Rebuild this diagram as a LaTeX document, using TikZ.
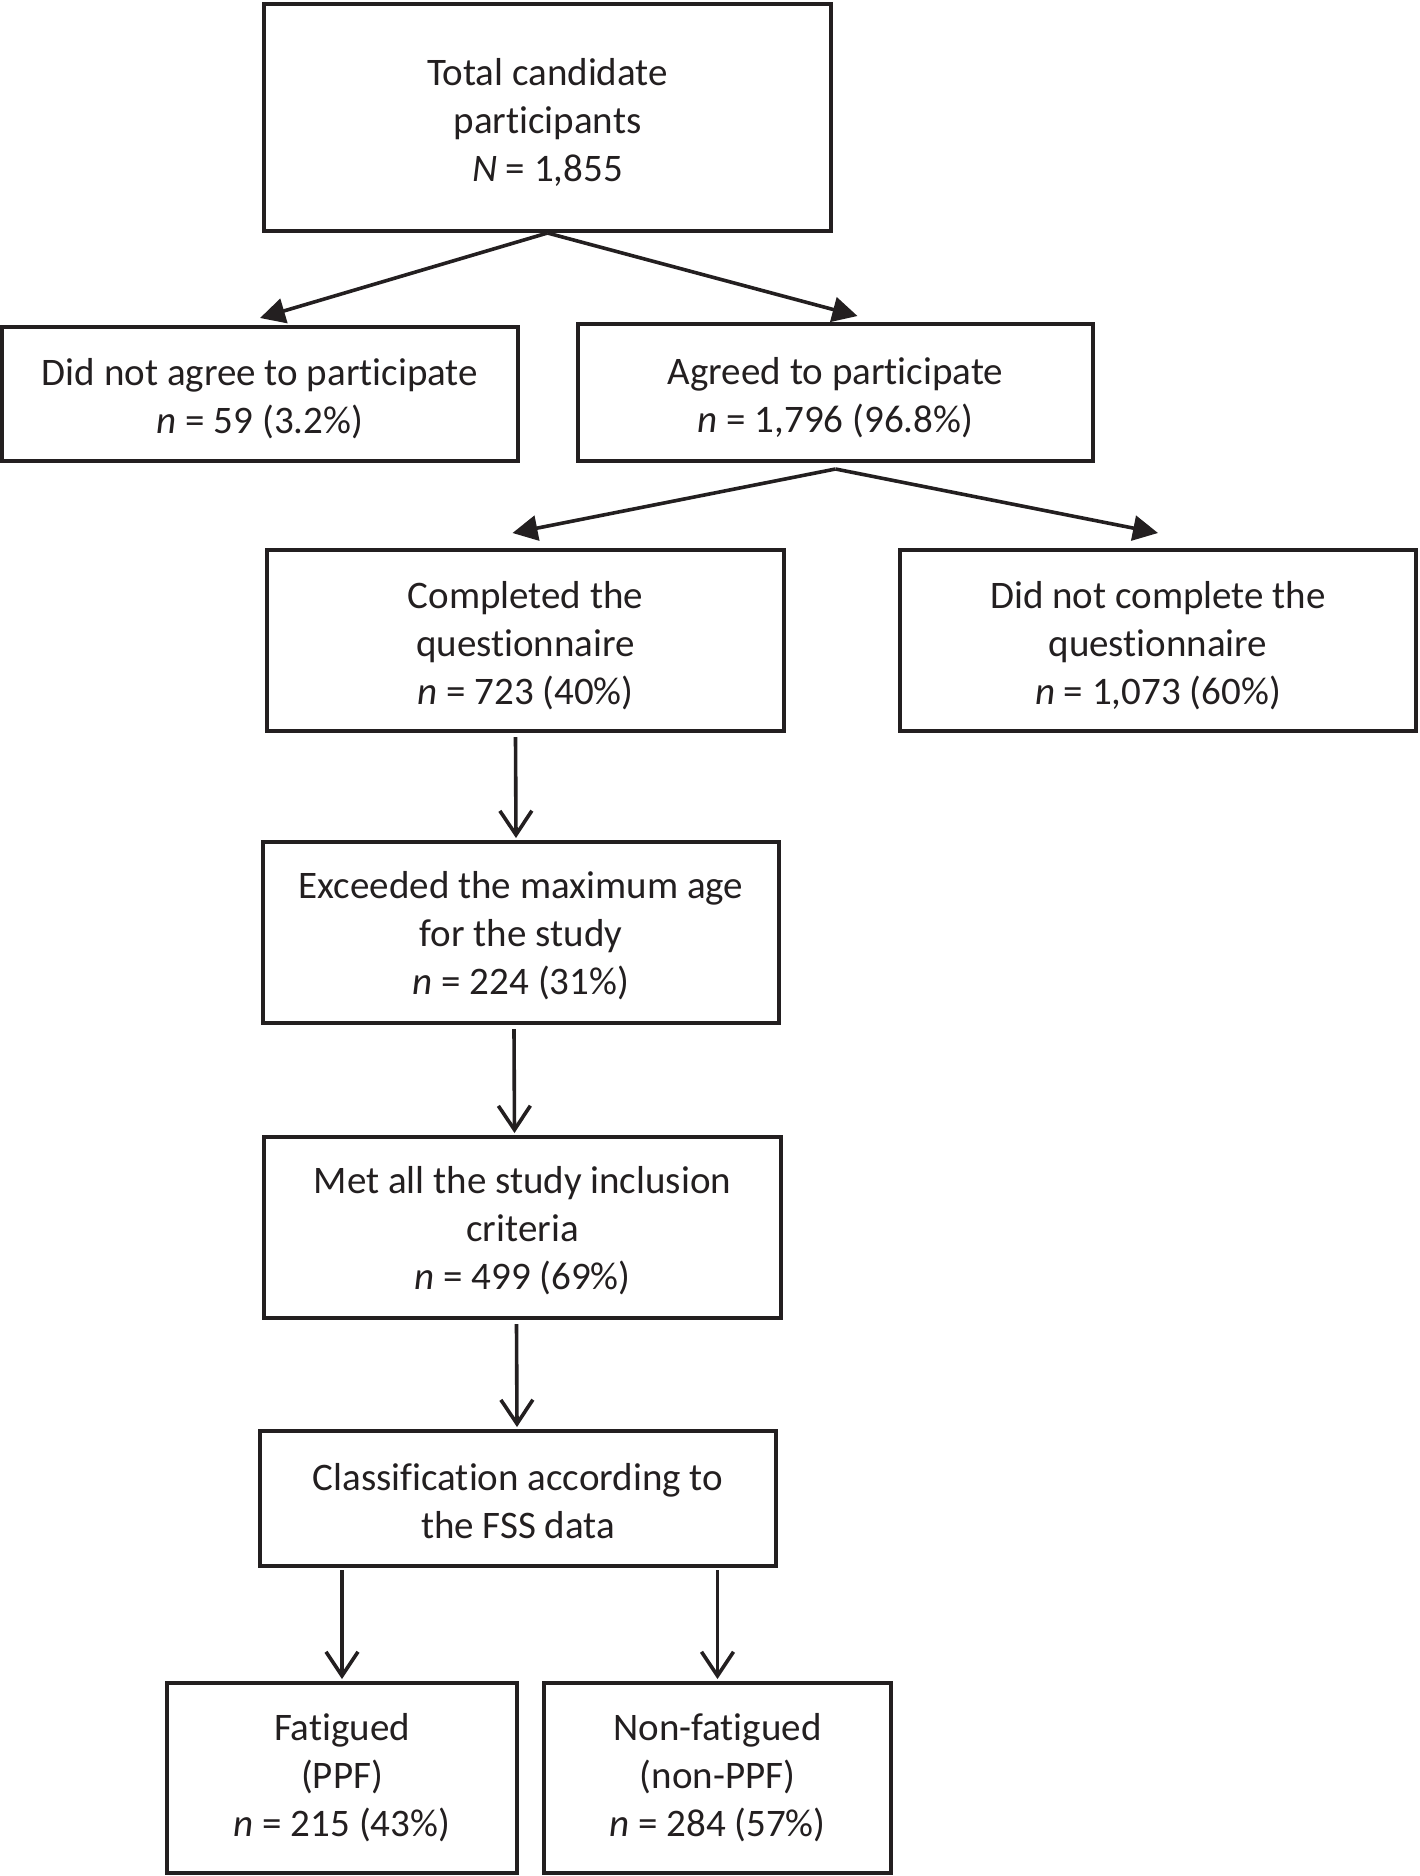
\documentclass[tikz,border=0pt]{standalone}
\usepackage{fontspec}
\setmainfont{Carlito}[Ligatures={NoCommon,NoContextual}]
\usetikzlibrary{arrows.meta}
\definecolor{ink}{HTML}{231F20}
\begin{document}
\begin{tikzpicture}[x=0.5pt,y=-0.5pt,
  box/.style={draw=ink,line width=2pt,rectangle,inner sep=0pt},
  txt/.style={inner sep=0pt,align=center,text=ink,font=\fontsize{19.5}{24}\selectfont},
  filledarrow/.style={draw=ink,line width=1.8pt,-{Triangle[length=12.5pt,width=12.5pt]}},
  openarrow/.style={draw=ink,line width=1.8pt,-{Straight Barb[length=12pt,width=16pt,line width=1.8pt]}}]
\useasboundingbox (0,0) rectangle (1420,1876);
\node[box,minimum width=283.5pt,minimum height=113.5pt] (total) at (547.5,117.5) {};
\node[txt] (total-t) at ([yshift=-2.7pt]total.center)
  {Total candidate\\participants\\\textit{N} = 1,855};
\node[box,minimum width=258pt,minimum height=67pt] (nagree) at (260,394) {};
\node[txt] (nagree-t) at ([yshift=-2.4pt]nagree.center)
  {Did not agree to participate\\\textit{n} = 59 (3.2\%)};
\node[box,minimum width=257.5pt,minimum height=68.5pt] (agree) at (835.5,392.5) {};
\node[txt] (agree-t) at ([yshift=-2.4pt]agree.center)
  {Agreed to participate\\\textit{n} = 1,796 (96.8\%)};
\node[box,minimum width=258.5pt,minimum height=90.5pt] (compl) at (525.5,640.5) {};
\node[txt] (compl-t) at ([yshift=-2.4pt]compl.center)
  {Completed the\\questionnaire\\\textit{n} = 723 (40\%)};
\node[box,minimum width=258pt,minimum height=90.5pt] (ncompl) at (1158,640.5) {};
\node[txt] (ncompl-t) at ([yshift=-2.4pt]ncompl.center)
  {Did not complete the\\questionnaire\\\textit{n} = 1,073 (60\%)};
\node[box,minimum width=258pt,minimum height=90.5pt] (exceed) at (521,932.5) {};
\node[txt] (exceed-t) at ([yshift=-1.8pt]exceed.center)
  {Exceeded the maximum age\\for the study\\\textit{n} = 224 (31\%)};
\node[box,minimum width=258.5pt,minimum height=90.5pt] (met) at (522.5,1227.5) {};
\node[txt] (met-t) at ([yshift=-1.8pt]met.center)
  {Met all the study inclusion\\criteria\\\textit{n} = 499 (69\%)};
\node[box,minimum width=258pt,minimum height=67.5pt] (class) at (518,1498.5) {};
\node[txt] (class-t) at ([yshift=-1.2pt]class.center)
  {Classification according to\\the FSS data};
\node[box,minimum width=175pt,minimum height=95pt] (fat) at (342,1778) {};
\node[txt] (fat-t) at ([yshift=0.4pt]fat.center)
  {Fatigued\\(PPF)\\\textit{n} = 215 (43\%)};
\node[box,minimum width=173.5pt,minimum height=95pt] (nfat) at (717.5,1778) {};
\node[txt] (nfat-t) at ([yshift=0.4pt]nfat.center)
  {Non-fatigued\\(non-PPF)\\\textit{n} = 284 (57\%)};
% split arrows
\draw[filledarrow] (total.south) -- ([yshift=3.5pt]nagree.north);
\draw[filledarrow] (total.south) -- ([xshift=11pt,yshift=3pt]agree.north);
\draw[filledarrow] ([yshift=-3pt]agree.south) -- ([xshift=-6.5pt,yshift=7.5pt]compl.north);
\draw[filledarrow] ([yshift=-3pt]agree.south) -- ([yshift=7.5pt]ncompl.north);
% vertical arrows
\draw[openarrow] ([xshift=-5pt,yshift=-2pt]compl.south) -- ([xshift=-2.5pt,yshift=1pt]exceed.north);
\draw[openarrow] ([xshift=-3.5pt,yshift=-2pt]exceed.south) -- ([xshift=-4pt,yshift=1pt]met.north);
\draw[openarrow] ([xshift=-3pt,yshift=-2pt]met.south) -- ([xshift=-0.5pt,yshift=1pt]class.north);
\draw[openarrow] ([yshift=-1pt]class.south -| fat.north) -- ([yshift=1pt]fat.north);
\draw[openarrow] ([yshift=-1pt]class.south -| nfat.north) -- ([yshift=1pt]nfat.north);
\end{tikzpicture}
\end{document}
